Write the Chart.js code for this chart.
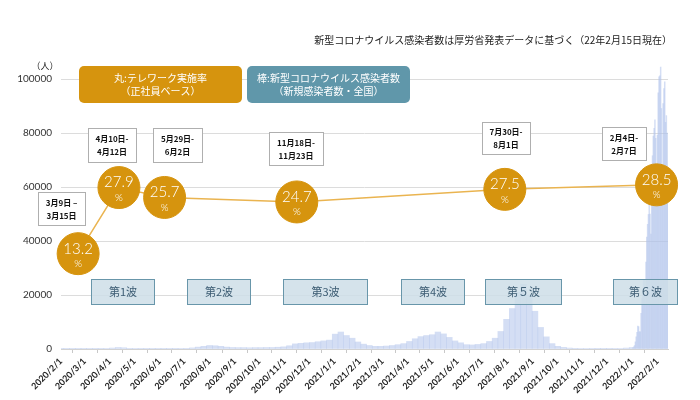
<!DOCTYPE html>
<html>
<head>
<meta charset="utf-8">
<script src="https://cdn.jsdelivr.net/npm/chart.js@4.4.1/dist/chart.umd.min.js"></script>
<style>
html, body { margin: 0; padding: 0; background: #fff; }
#wrap { width: 700px; height: 400px; position: relative; }
</style>
</head>
<body>
<div id="wrap"><canvas id="chart"></canvas></div>
<script>
// x axis month ticks
var monthLabels = ['2020/2/1', '2020/3/1', '2020/4/1', '2020/5/1', '2020/6/1', '2020/7/1', '2020/8/1',
    '2020/9/1', '2020/10/1', '2020/11/1', '2020/12/1', '2021/1/1', '2021/2/1', '2021/3/1', '2021/4/1',
    '2021/5/1', '2021/6/1', '2021/7/1', '2021/8/1', '2021/9/1', '2021/10/1', '2021/11/1', '2021/12/1',
    '2022/1/1', '2022/2/1'];
var yTicks = [0, 20000, 40000, 60000, 80000, 100000];

// new cases, one value per week from 2020/2/1
var weeklyStart = '2020/2/1';
var weeklyCases = [2, 5, 10, 20, 30, 40, 40, 60, 150, 350, 550, 450, 250, 150, 60, 30, 30, 40, 40, 50,
    70, 150, 250, 400, 700, 1000, 1300, 1200, 1000, 700, 550, 500, 500, 450, 500, 500, 550, 550, 650, 800,
    1200, 1900, 2100, 2300, 2400, 2700, 3000, 3300, 5500, 6300, 5000, 4000, 2600, 1800, 1300, 1000, 1000, 1100, 1300, 1600,
    2000, 2800, 3800, 4600, 5000, 5300, 6300, 5600, 4300, 3000, 2300, 1600, 1500, 1700, 2000, 2800, 4000, 6500, 11000, 15000,
    21000, 24000, 20000, 14000, 8000, 4500, 2000, 1000, 600, 350, 250, 200, 170, 150, 120, 120, 120, 150, 200, 350];

// new cases, daily from 2022/1/1
var dailyStart = '2022/1/1';
var dailyCases = [534, 553, 782, 1265, 2638, 4475, 6214, 8480, 8249, 6438, 6377, 13244, 18860, 22045, 25742,
    25631, 20666, 32197, 41485, 46199, 49854, 54576, 50018, 42589, 62613, 71633, 78930, 81809, 84933, 78114, 58829,
    79250, 94932, 100857, 101271, 104476, 89129, 64947, 91000, 96500, 99000, 84000, 86500, 80000, 57000];

// telework rate (circles)
var teleworkDates = ['2020/2/22', '2020/4/12', '2020/6/7', '2020/11/16', '2021/7/29', '2022/1/31'];
var teleworkRates = [13.2, 27.9, 25.7, 24.7, 27.5, 28.5];
var surveyPeriods = [['3月9日 –', '3月15日'], ['4月10日-', '4月12日'], ['5月29日-', '6月2日'],
    ['11月18日-', '11月23日'], ['7月30日-', '8月1日'], ['2月4日-', '2月7日']];
var waveLabels = ['第1波', '第2波', '第3波', '第4波', '第５波', '第６波'];

var JP = "'Noto Sans CJK JP', 'Noto Sans', sans-serif";

function dayIndex(s) {
    var p = s.split('/');
    return Math.round((Date.UTC(+p[0], p[1] - 1, +p[2]) - Date.UTC(2020, 1, 1)) / 864e5);
}

var casePoints = [];
var w0 = dayIndex(weeklyStart);
for (var i = 0; i < weeklyCases.length; i++) {
    casePoints.push({x: w0 + i * 7, y: weeklyCases[i]});
}
var d0 = dayIndex(dailyStart);
for (var i = 0; i < dailyCases.length; i++) {
    casePoints.push({x: d0 + i, y: dailyCases[i]});
}
var ratePoints = [];
for (var i = 0; i < teleworkRates.length; i++) {
    ratePoints.push({x: dayIndex(teleworkDates[i]), y: teleworkRates[i]});
}
var monthDays = monthLabels.map(dayIndex);
var labelByDay = {};
monthLabels.forEach(function (l) { labelByDay[dayIndex(l)] = l; });

function centerText(ctx, lines, cx, cy, gap) {
    var start = cy - (lines.length - 1) * gap / 2;
    for (var i = 0; i < lines.length; i++) {
        ctx.fillText(lines[i], cx, start + i * gap);
    }
}

var overlays = {
    id: 'overlays',
    afterDatasetDraw: function (chart, args) {
        if (args.index !== 1) return;
        // wave boxes sit over the bars
        var ctx = chart.ctx;
        var boxes = [[91, 63], [187, 63], [283, 84], [401, 63], [485, 76], [613, 64]];
        ctx.save();
        ctx.font = '11px ' + JP;
        ctx.textAlign = 'center';
        ctx.textBaseline = 'middle';
        for (var i = 0; i < boxes.length; i++) {
            var b = boxes[i];
            ctx.fillStyle = 'rgba(206,222,231,0.85)';
            ctx.fillRect(b[0], 279, b[1], 25);
            ctx.strokeStyle = 'rgb(104,150,170)';
            ctx.lineWidth = 1;
            ctx.strokeRect(b[0] + 0.5, 279.5, b[1], 25);
            ctx.fillStyle = 'rgb(60,92,115)';
            ctx.fillText(waveLabels[i], b[0] + b[1] / 2 + 0.5, 292);
        }
        ctx.restore();
    },
    afterDatasetsDraw: function (chart) {
        var ctx = chart.ctx;
        ctx.save();
        ctx.textAlign = 'center';
        ctx.textBaseline = 'middle';

        // labels in circles
        var meta = chart.getDatasetMeta(0);
        meta.data.forEach(function (pt, i) {
            ctx.fillStyle = '#fff';
            ctx.font = '300 15px Lato, sans-serif';
            ctx.fillText(teleworkRates[i].toFixed(1), pt.x, pt.y - 5);
            ctx.font = '300 10px Lato, sans-serif';
            ctx.fillText('%', pt.x, pt.y + 10);
        });

        // survey period boxes
        var dboxes = [[38, 192, 47, 33], [88, 128, 48, 34], [153, 128, 49, 34], [269, 132, 54, 33], [482, 122, 48, 32], [602, 127, 44, 33]];
        ctx.font = 'bold 8px ' + JP;
        for (var i = 0; i < dboxes.length; i++) {
            var b = dboxes[i];
            ctx.fillStyle = '#fff';
            ctx.fillRect(b[0], b[1], b[2], b[3]);
            ctx.strokeStyle = 'rgb(175,175,175)';
            ctx.lineWidth = 1;
            ctx.strokeRect(b[0] + 0.5, b[1] + 0.5, b[2], b[3]);
            ctx.fillStyle = '#111';
            centerText(ctx, surveyPeriods[i], b[0] + b[2] / 2, b[1] + b[3] / 2 + 0.5, 13);
        }

        // legend boxes
        ctx.font = '10px ' + JP;
        ctx.fillStyle = 'rgb(214,148,14)';
        ctx.beginPath();
        ctx.roundRect(79, 66, 163, 37, 5);
        ctx.fill();
        ctx.fillStyle = 'rgb(96,151,170)';
        ctx.beginPath();
        ctx.roundRect(247, 66, 163, 37, 5);
        ctx.fill();
        ctx.fillStyle = '#fff';
        centerText(ctx, ['丸:テレワーク実施率', '（正社員ベース）'], 160.5, 84.5, 13);
        centerText(ctx, ['棒:新型コロナウイルス感染者数', '（新規感染者数・全国）'], 328.5, 84.5, 13);

        // note and unit
        ctx.fillStyle = '#222';
        ctx.textAlign = 'right';
        ctx.font = '10px ' + JP;
        ctx.fillText('新型コロナウイルス感染者数は厚労省発表データに基づく（22年2月15日現在）', 672, 40);
        ctx.textAlign = 'center';
        ctx.font = '9px ' + JP;
        ctx.fillText('（人）', 45, 66);
        ctx.restore();
    }
};

var chart = new Chart(document.getElementById('chart'), {
    type: 'bar',
    data: {
        datasets: [{
            type: 'line',
            data: ratePoints,
            xAxisID: 'x',
            yAxisID: 'rate',
            order: 1,
            clip: false,
            borderColor: 'rgb(234,180,80)',
            borderWidth: 1.5,
            pointRadius: 21,
            pointBackgroundColor: 'rgb(214,148,14)',
            pointBorderColor: 'rgb(214,148,14)',
            pointBorderWidth: 1,
            tension: 0
        }, {
            type: 'bar',
            data: casePoints,
            xAxisID: 'x',
            yAxisID: 'y',
            order: 2,
            backgroundColor: 'rgba(176,195,235,0.55)',
            borderWidth: 0,
            barThickness: 'flex',
            barPercentage: 1,
            categoryPercentage: 1
        }]
    },
    options: {
        responsive: true,
        maintainAspectRatio: false,
        animation: false,
        layout: {padding: {top: 63, right: 32, left: 0, bottom: 0}},
        plugins: {legend: {display: false}, tooltip: {enabled: false}},
        scales: {
            x: {
                type: 'linear',
                min: 0,
                max: 744,
                offset: false,
                afterBuildTicks: function (scale) {
                    scale.ticks = monthDays.map(function (d) { return {value: d}; });
                },
                afterFit: function (scale) { scale.height = 51; },
                grid: {drawOnChartArea: false, color: 'rgb(200,200,200)', tickLength: 4},
                border: {color: 'rgb(210,210,210)'},
                ticks: {
                    autoSkip: false,
                    minRotation: 45,
                    maxRotation: 45,
                    padding: 3,
                    color: '#222',
                    font: {family: 'Lato, sans-serif', size: 9, weight: 'bold'},
                    callback: function (v) { return labelByDay[v] || ''; }
                }
            },
            y: {
                min: 0,
                max: 106000,
                afterBuildTicks: function (scale) {
                    scale.ticks = yTicks.map(function (v) { return {value: v}; });
                },
                afterFit: function (scale) { scale.width = 61; },
                grid: {color: 'rgb(220,220,220)', drawTicks: false},
                border: {display: false},
                ticks: {
                    padding: 9,
                    color: '#333',
                    font: {family: 'Lato, sans-serif', size: 10},
                    callback: function (v) { return String(v); }
                }
            },
            rate: {
                type: 'linear',
                axis: 'y',
                position: 'right',
                display: false,
                min: -8.0,
                max: 55.6
            }
        }
    },
    plugins: [overlays]
});
</script>
</body>
</html>
